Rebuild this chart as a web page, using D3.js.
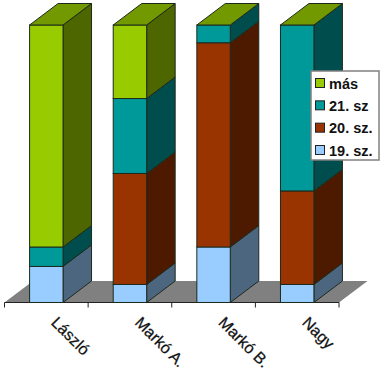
<!DOCTYPE html>
<html>
<head>
<meta charset="utf-8">
<script src="https://cdn.jsdelivr.net/npm/d3@7"></script>
<style>
html, body { margin: 0; padding: 0; background: #fff; }
svg { display: block; }
text { font-family: "Liberation Sans", Arial, sans-serif; fill: #111; }
</style>
</head>
<body>
<div id="chart"></div>
<script>
const width = 385;
const height = 373;

// values, percent of each column
const categories = ["László", "Markó A.", "Markó B.", "Nagy"];
const seriesNames = ["19. sz.", "20. sz.", "21. sz", "más"];
const sz19 = [13, 6.5, 20, 6.5];
const sz20 = [0, 40, 73.6, 33.7];
const sz21 = [7, 27, 6.4, 59.8];
const mas = [80, 26.5, 0, 0];
const ticks = [0, 1, 2, 3, 4];

const frontColors = ["#99ccff", "#993300", "#009999", "#99cc00"];
const sideColors = ["#4d6680", "#4d1a00", "#004d4d", "#4d6600"];
const topColor = "#739900";
const floorColor = "#808080";
const edgeColor = "#1c2a1c";

const depthX = 28.5;
const depthY = -21.5;

const rows = categories.map((name, i) => ({
    name: name,
    "19. sz.": sz19[i],
    "20. sz.": sz20[i],
    "21. sz": sz21[i],
    "más": mas[i]
}));
const stacked = d3.stack().keys(seriesNames)(rows);

const x = d3.scaleBand()
    .domain(categories)
    .range([4.5, 339])
    .paddingInner(0.6)
    .paddingOuter(0.3);
const y = d3.scaleLinear().domain([0, 100]).range([302.5, 25]);
const tickX = d3.scaleLinear().domain([0, 4]).range([4.5, 339]);

const svg = d3.select("#chart").append("svg")
    .attr("width", width)
    .attr("height", height);

const poly = pts => pts.map(p => p.join(",")).join(" ");

// floor
const x0 = tickX(0), x1 = tickX(4), y0 = y(0);
svg.append("polygon")
    .attr("points", poly([[x0, y0], [x1, y0], [x1 + depthX, y0 + depthY], [x0 + depthX, y0 + depthY]]))
    .attr("fill", floorColor);

// category axis
const axisG = svg.append("g");
axisG.append("line")
    .attr("x1", x0).attr("x2", x1)
    .attr("y1", y0).attr("y2", y0)
    .attr("stroke", "#222");
axisG.selectAll(".tick").data(ticks).enter().append("line")
    .attr("class", "tick")
    .attr("x1", d => tickX(d)).attr("x2", d => tickX(d))
    .attr("y1", y0).attr("y2", y0 + 5)
    .attr("stroke", "#222");

// columns, bottom segment first
const bars = svg.selectAll(".bar").data(categories).enter().append("g").attr("class", "bar");
bars.each(function(name, i) {
    const g = d3.select(this);
    const left = x(name);
    const right = left + x.bandwidth();
    stacked.forEach((s, k) => {
        const yLow = y(s[i][0]);
        const yHigh = y(s[i][1]);
        if (yLow - yHigh < 0.01) return;
        g.append("polygon")
            .attr("points", poly([[right, yLow], [right + depthX, yLow + depthY], [right + depthX, yHigh + depthY], [right, yHigh]]))
            .attr("fill", sideColors[k])
            .attr("stroke", edgeColor)
            .attr("stroke-width", 1);
        g.append("rect")
            .attr("x", left)
            .attr("y", yHigh)
            .attr("width", x.bandwidth())
            .attr("height", yLow - yHigh)
            .attr("fill", frontColors[k])
            .attr("stroke", edgeColor)
            .attr("stroke-width", 1);
    });
    const yTop = y(100);
    g.append("polygon")
        .attr("points", poly([[left, yTop], [right, yTop], [right + depthX, yTop + depthY], [left + depthX, yTop + depthY]]))
        .attr("fill", topColor)
        .attr("stroke", edgeColor)
        .attr("stroke-width", 1);
});

// rotated labels
svg.selectAll(".cat").data(categories).enter().append("text")
    .attr("class", "cat")
    .attr("transform", d => `translate(${x(d) + x.bandwidth() / 2 + 4},${y0 + 21}) rotate(45)`)
    .attr("font-size", 16)
    .attr("stroke", "#111")
    .attr("stroke-width", 0.25)
    .text(d => d);

// legend
const legend = svg.append("g").attr("transform", "translate(311,71)");
legend.append("rect")
    .attr("width", 68)
    .attr("height", 89)
    .attr("fill", "#fff")
    .attr("stroke", "#808080")
    .attr("stroke-width", 1.5);
const legendNames = seriesNames.slice().reverse();
const legendY = d3.scalePoint().domain(legendNames).range([12, 79]);
legendNames.forEach(name => {
    const k = seriesNames.indexOf(name);
    legend.append("rect")
        .attr("x", 4.5)
        .attr("y", legendY(name) - 4.5)
        .attr("width", 9)
        .attr("height", 9)
        .attr("fill", frontColors[k])
        .attr("stroke", "#222");
    legend.append("text")
        .attr("x", 18)
        .attr("y", legendY(name) + 5.5)
        .attr("font-size", 14.5)
        .attr("font-weight", "bold")
        .text(name);
});
</script>
</body>
</html>
